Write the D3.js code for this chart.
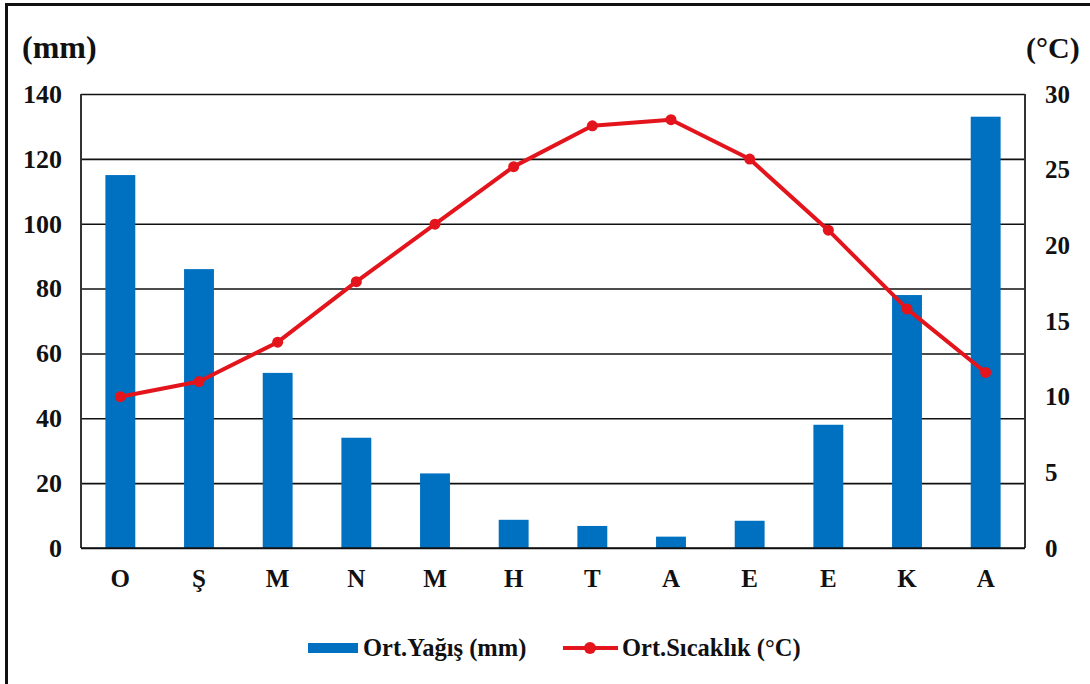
<!DOCTYPE html>
<html>
<head>
<meta charset="utf-8">
<script src="https://cdn.jsdelivr.net/npm/d3@7"></script>
<style>
  body { margin: 0; background: #fff; }
  svg text { font-family: "Liberation Serif", "Times New Roman", serif; font-weight: bold; fill: #111; }
</style>
</head>
<body>
<div id="chart"></div>
<script>
// monthly climate data (Turkish month initials)
var months = ["O", "Ş", "M", "N", "M", "H", "T", "A", "E", "E", "K", "A"]
var rainfall = [115, 86, 54, 34, 23, 8.7, 6.8, 3.5, 8.4, 38, 78, 133]
var temperature = [10, 11, 13.6, 17.6, 21.4, 25.2, 27.9, 28.3, 25.7, 21.0, 15.8, 11.6]
var rainTicks = [0, 20, 40, 60, 80, 100, 120, 140]
var tempTicks = [0, 5, 10, 15, 20, 25, 30]

var blue = "#0070C0"
var red = "#E3141C"

var W = 1090, H = 684
var margin = {top: 94, right: 65, bottom: 136, left: 81}
var width = W - margin.left - margin.right
var height = H - margin.top - margin.bottom

var svg = d3.select("#chart").append("svg")
    .attr("width", W)
    .attr("height", H)

// outer frame (only top and left edges visible)
svg.append("line").attr("x1", 5).attr("x2", W).attr("y1", 4.5).attr("y2", 4.5)
    .attr("stroke", "#111").attr("stroke-width", 3)
svg.append("line").attr("x1", 6.5).attr("x2", 6.5).attr("y1", 3).attr("y2", H)
    .attr("stroke", "#111").attr("stroke-width", 3)

var g = svg.append("g").attr("transform", "translate(" + margin.left + "," + margin.top + ")")

var x = d3.scaleBand().domain(d3.range(months.length)).range([0, width]).padding(0)
var y = d3.scaleLinear().domain([0, 140]).range([height, 0])
var y2 = d3.scaleLinear().domain([0, 30]).range([height, 0])

var barW = x.step() * 0.38

// grid + left axis
var yAxis = d3.axisLeft(y).tickValues(rainTicks).tickSize(-width).tickPadding(19)
g.append("g").attr("class", "y grid").call(yAxis)
    .call(function(s) {
        s.select(".domain").remove()
        s.selectAll("line").attr("stroke", "#111").attr("stroke-width", 1.6)
        s.selectAll("text").style("font-size", "26px")
    })

// right axis labels
var y2Axis = d3.axisRight(y2).tickValues(tempTicks).tickSize(0).tickPadding(20)
g.append("g").attr("transform", "translate(" + width + ",0)").call(y2Axis)
    .call(function(s) {
        s.select(".domain").remove()
        s.selectAll("text").style("font-size", "25px")
    })

// bars
g.selectAll(".bar")
    .data(rainfall)
    .enter().append("rect")
    .attr("class", "bar")
    .attr("x", function(d, i) { return x(i) + x.bandwidth() / 2 - barW / 2 })
    .attr("y", function(d) { return y(d) })
    .attr("width", barW)
    .attr("height", function(d) { return y(0) - y(d) })
    .attr("fill", blue)

// plot frame sides
g.append("line").attr("x1", 0).attr("x2", 0).attr("y1", 0).attr("y2", height)
    .attr("stroke", "#333").attr("stroke-width", 2)
g.append("line").attr("x1", width).attr("x2", width).attr("y1", 0).attr("y2", height)
    .attr("stroke", "#333").attr("stroke-width", 2)
g.append("line").attr("x1", 0).attr("x2", width).attr("y1", height).attr("y2", height)
    .attr("stroke", "#111").attr("stroke-width", 1.6)

// bottom axis
var xAxis = d3.axisBottom(x).tickSize(0).tickPadding(21).tickFormat(function(i) { return months[i] })
g.append("g").attr("transform", "translate(0," + height + ")").call(xAxis)
    .call(function(s) {
        s.select(".domain").remove()
        s.selectAll("text").style("font-size", "25px")
    })

// temperature line
var line = d3.line()
    .x(function(d, i) { return x(i) + x.bandwidth() / 2 })
    .y(function(d) { return y2(d) })

g.append("path")
    .datum(temperature)
    .attr("d", line)
    .attr("fill", "none")
    .attr("stroke", red)
    .attr("stroke-width", 4)
    .attr("stroke-linejoin", "round")

g.selectAll(".dot")
    .data(temperature)
    .enter().append("circle")
    .attr("class", "dot")
    .attr("cx", function(d, i) { return x(i) + x.bandwidth() / 2 })
    .attr("cy", function(d) { return y2(d) })
    .attr("r", 5.5)
    .attr("fill", red)

// unit labels
svg.append("text").attr("x", 22).attr("y", 58).text("(mm)").style("font-size", "32px")
svg.append("text").attr("x", 1026).attr("y", 58).text("(°C)").style("font-size", "30px")

// legend
var leg = svg.append("g")
leg.append("rect").attr("x", 308).attr("y", 643).attr("width", 50).attr("height", 10).attr("fill", blue)
leg.append("text").attr("x", 363).attr("y", 656).text("Ort.Yağış (mm)").style("font-size", "24.5px")
leg.append("line").attr("x1", 563).attr("x2", 618).attr("y1", 648).attr("y2", 648)
    .attr("stroke", red).attr("stroke-width", 4)
leg.append("circle").attr("cx", 590).attr("cy", 648).attr("r", 6).attr("fill", red)
leg.append("text").attr("x", 622).attr("y", 656).text("Ort.Sıcaklık (°C)").style("font-size", "24.5px")
</script>
</body>
</html>
